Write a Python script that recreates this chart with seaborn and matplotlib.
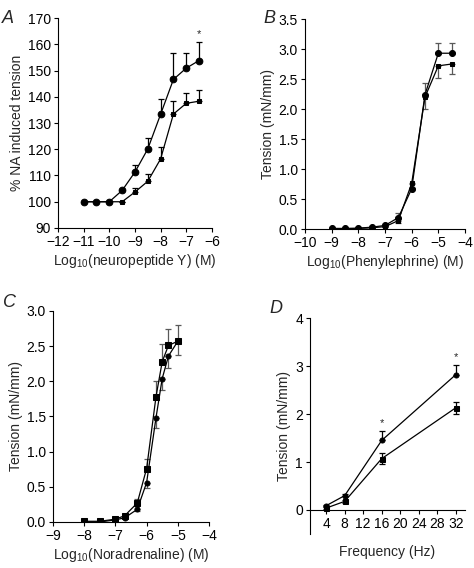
import numpy as np
import pandas as pd
import seaborn as sns
import matplotlib
matplotlib.use("Agg")
import matplotlib.pyplot as plt

# --- panel A: neuropeptide Y ---
a_x = [-11, -10.5, -10, -9.5, -9, -8.5, -8, -7.5, -7, -6.5]
a_circ = [100, 100, 100, 104.3, 111.3, 120.1, 133.3, 146.6, 150.9, 153.8]
a_circ_err = [0, 0, 0, 0, 2.7, 4.2, 6.0, 10.0, 5.7, 7.0]
a_sq = [100, 100, 100, 100, 103.7, 107.8, 116.3, 133.4, 137.5, 138.3]
a_sq_err = [0, 0, 0, 0, 1.5, 2.6, 4.5, 4.9, 4.0, 4.1]

# --- panel B: phenylephrine ---
b_x = [-9, -8.5, -8, -7.5, -7, -6.5, -6, -5.5, -5, -4.5]
b_circ = [0.01, 0.01, 0.015, 0.03, 0.06, 0.19, 0.67, 2.24, 2.93, 2.93]
b_circ_err = [0, 0, 0, 0, 0.01, 0.07, 0.08, 0.2, 0.17, 0.17]
b_sq = [0.0, 0.0, 0.01, 0.02, 0.04, 0.14, 0.76, 2.2, 2.72, 2.75]
b_sq_err = [0, 0, 0, 0, 0.01, 0.04, 0.07, 0.2, 0.2, 0.17]

# --- panel C: noradrenaline ---
c_x = [-8, -7.5, -7, -6.7, -6.3, -6, -5.7, -5.5, -5.3, -5]
c_circ = [0.0, 0.0, 0.03, 0.06, 0.18, 0.56, 1.48, 2.04, 2.36, 2.57]
c_circ_err = [0, 0, 0, 0.01, 0.03, 0.08, 0.15, 0.17, 0.17, 0.2]
c_sq = [0.01, 0.01, 0.04, 0.09, 0.27, 0.76, 1.78, 2.28, 2.51, 2.57]
c_sq_err = [0, 0, 0.01, 0.02, 0.06, 0.14, 0.23, 0.25, 0.24, 0.23]

# --- panel D: frequency ---
d_x = [4, 8, 16, 32]
d_circ = [0.09, 0.3, 1.45, 2.82]
d_circ_err = [0.02, 0.03, 0.19, 0.2]
d_sq = [0.04, 0.18, 1.07, 2.13]
d_sq_err = [0.02, 0.03, 0.11, 0.13]

sns.set_style("ticks")
plt.rcParams['font.family'] = ['Liberation Sans', 'DejaVu Sans']
plt.rcParams['mathtext.fontset'] = 'custom'
plt.rcParams['mathtext.rm'] = 'Liberation Sans'
plt.rcParams['mathtext.it'] = 'Liberation Sans:italic'
plt.rcParams['font.size'] = 10
plt.rcParams['axes.linewidth'] = 0.8
plt.rcParams['xtick.major.width'] = 0.8
plt.rcParams['ytick.major.width'] = 0.8
plt.rcParams['xtick.major.size'] = 3
plt.rcParams['ytick.major.size'] = 3
plt.rcParams['axes.edgecolor'] = 'black'
plt.rcParams['xtick.color'] = 'black'
plt.rcParams['ytick.color'] = 'black'

fig = plt.figure(figsize=(4.74, 5.68), dpi=100)
axA = fig.add_axes([0.1224, 0.5986, 0.3246, 0.3697])
axB = fig.add_axes([0.6435, 0.5968, 0.3375, 0.3697])
axC = fig.add_axes([0.1118, 0.0810, 0.3292, 0.3715])
axD = fig.add_axes([0.6540, 0.0599, 0.3270, 0.3801])


def series(ax, x, y, err, marker, ms, up=True, down=False, ecolor='black'):
    lo = err if down else [0] * len(err)
    hi = err if up else [0] * len(err)
    ax.errorbar(x, y, yerr=[lo, hi], fmt='none', ecolor=ecolor,
                elinewidth=0.9, capsize=2.5, capthick=0.9, zorder=1)
    df = pd.DataFrame({'x': x, 'y': y})
    sns.lineplot(data=df, x='x', y='y', ax=ax, color='black', lw=0.9,
                 marker=marker, markersize=ms, markeredgecolor='black',
                 markerfacecolor='black', zorder=3)


# A
series(axA, a_x, a_sq, a_sq_err, 's', 3.3)
series(axA, a_x, a_circ, a_circ_err, 'o', 4.8)
axA.set_xlim(-12, -6)
axA.set_ylim(90, 170)
axA.set_xticks(range(-12, -5))
axA.set_yticks(range(90, 171, 10))
axA.set_xlabel('Log$_{10}$(neuropeptide Y) (M)', labelpad=2)
axA.set_ylabel('% NA induced tension', labelpad=3)
axA.text(-6.5, 161.8, '*', ha='center', va='bottom', fontsize=8)

# B
series(axB, b_x, b_sq, b_sq_err, 's', 3.3, up=False, down=True, ecolor='0.35')
series(axB, b_x, b_circ, b_circ_err, 'o', 4.3, ecolor='0.35')
axB.set_xlim(-10, -4)
axB.set_ylim(0, 3.5)
axB.set_xticks(range(-10, -3))
axB.set_yticks(np.arange(0, 3.51, 0.5))
axB.yaxis.set_major_formatter(matplotlib.ticker.FormatStrFormatter('%.1f'))
axB.set_xlabel('Log$_{10}$(Phenylephrine) (M)', labelpad=2)
axB.set_ylabel('Tension (mN/mm)', labelpad=3)

# C
series(axC, c_x, c_circ, c_circ_err, 'o', 3.6, up=False, down=True, ecolor='0.35')
series(axC, c_x, c_sq, c_sq_err, 's', 4.0, ecolor='0.35')
axC.set_xlim(-9, -4)
axC.set_ylim(0, 3.0)
axC.set_xticks(range(-9, -3))
axC.set_yticks(np.arange(0, 3.01, 0.5))
axC.yaxis.set_major_formatter(matplotlib.ticker.FormatStrFormatter('%.1f'))
axC.set_xlabel('Log$_{10}$(Noradrenaline) (M)', labelpad=2)
axC.set_ylabel('Tension (mN/mm)', labelpad=3)

# D
series(axD, d_x, d_sq, d_sq_err, 's', 3.6, up=True, down=True)
series(axD, d_x, d_circ, d_circ_err, 'o', 3.6)
axD.set_xlim(0.5, 34)
axD.set_ylim(-0.5, 4)
axD.set_xticks(range(4, 33, 4))
axD.set_yticks(range(0, 5))
axD.spines['bottom'].set_position(('data', 0))
axD.set_xlabel('Frequency (Hz)', labelpad=10)
axD.set_ylabel('Tension (mN/mm)', labelpad=3)
axD.text(16, 1.7, '*', ha='center', va='bottom', fontsize=8)
axD.text(32, 3.08, '*', ha='center', va='bottom', fontsize=8)

for ax in (axA, axB, axC, axD):
    sns.despine(ax=ax)
    ax.tick_params(labelsize=10, pad=2)
    ax.grid(False)

fig.text(0.004, 0.968, 'A', fontsize=13, style='italic', va='center')
fig.text(0.555, 0.968, 'B', fontsize=13, style='italic', va='center')
fig.text(0.006, 0.468, 'C', fontsize=13, style='italic', va='center')
fig.text(0.568, 0.457, 'D', fontsize=13, style='italic', va='center')

fig.savefig('out.png', dpi=100)
